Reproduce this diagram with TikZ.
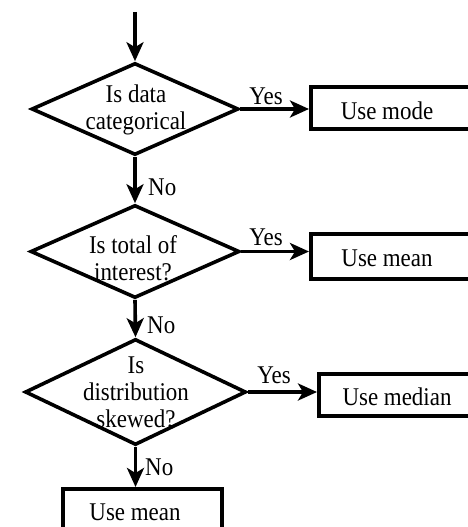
\documentclass[tikz,border=0pt]{standalone}
\usepackage{fontspec}
\setmainfont{Liberation Serif}[FakeStretch=0.9]
\usetikzlibrary{shapes.geometric,arrows.meta}
\begin{document}
\begin{tikzpicture}[x=1pt,y=-1pt,
  lw/.style={line width=3.6pt},
  dia/.style={diamond, draw, lw, inner sep=0pt, line join=miter},
  box/.style={rectangle, draw, line width=4.2pt, inner sep=0pt},
  txt/.style={align=center, inner sep=0pt, font=\fontsize{25.5}{27}\selectfont},
  lbl/.style={inner sep=0pt, font=\fontsize{25.5}{27}\selectfont},
  arr/.style={lw, -{Stealth[length=19pt,width=17pt,inset=5pt]}}]
\useasboundingbox (0,0) rectangle (468,527);
\clip (0,0) rectangle (468,527);

% decisions
\node[dia, minimum width=207pt, minimum height=92pt] (d1) at (135,109) {};
\node[txt] (t1) at (136,110) {Is data\\categorical};
\node[dia, minimum width=209pt, minimum height=93pt] (d2) at (135,251.5) {};
\node[txt] (t2) at (133,258) {Is total of\\interest?};
\node[dia, minimum width=221pt, minimum height=106pt] (d3) at (135.5,392) {};
\node[txt] (t3) at (136,392.5) {Is\\distribution\\skewed?};

% outcome boxes
\node[box, anchor=north west, minimum width=180pt, minimum height=42pt] (b1) at (309,85) {};
\node[lbl, anchor=base] (u1) at (387,119) {Use mode};
\node[box, anchor=north west, minimum width=180pt, minimum height=45pt] (b2) at (309,232) {};
\node[lbl, anchor=base] (u2) at (387,266) {Use mean};
\node[box, anchor=north west, minimum width=180pt, minimum height=42pt] (b3) at (317,372) {};
\node[lbl, anchor=base] (u3) at (397,405) {Use median};
\node[box, anchor=north west, minimum width=159pt, minimum height=70pt] (b4) at (61,487) {};
\node[lbl, anchor=base] (u4) at (135,520) {Use mean};

% connectors
\coordinate (start) at (135,12);
\draw[arr] (start) -- (d1.north);
\draw[arr] (d1.south) -- (d2.north);
\draw[arr] (d2.south) -- (d3.north);
\draw[arr] (d3.south) -- (d3.south |- b4.north);
\draw[arr] (d1.east) -- (d1.east -| b1.west);
\draw[arr] (d2.east) -- (d2.east -| b2.west);
\draw[arr] (d3.east) -- (d3.east -| b3.west);

% labels
\node[lbl, anchor=base] (y1) at (266,104) {Yes};
\node[lbl, anchor=base] (y2) at (266,245) {Yes};
\node[lbl, anchor=base] (y3) at (274,383) {Yes};
\node[lbl, anchor=base west] (n1) at (148,195) {No};
\node[lbl, anchor=base west] (n2) at (147,333) {No};
\node[lbl, anchor=base west] (n3) at (145,475) {No};
\end{tikzpicture}
\end{document}
